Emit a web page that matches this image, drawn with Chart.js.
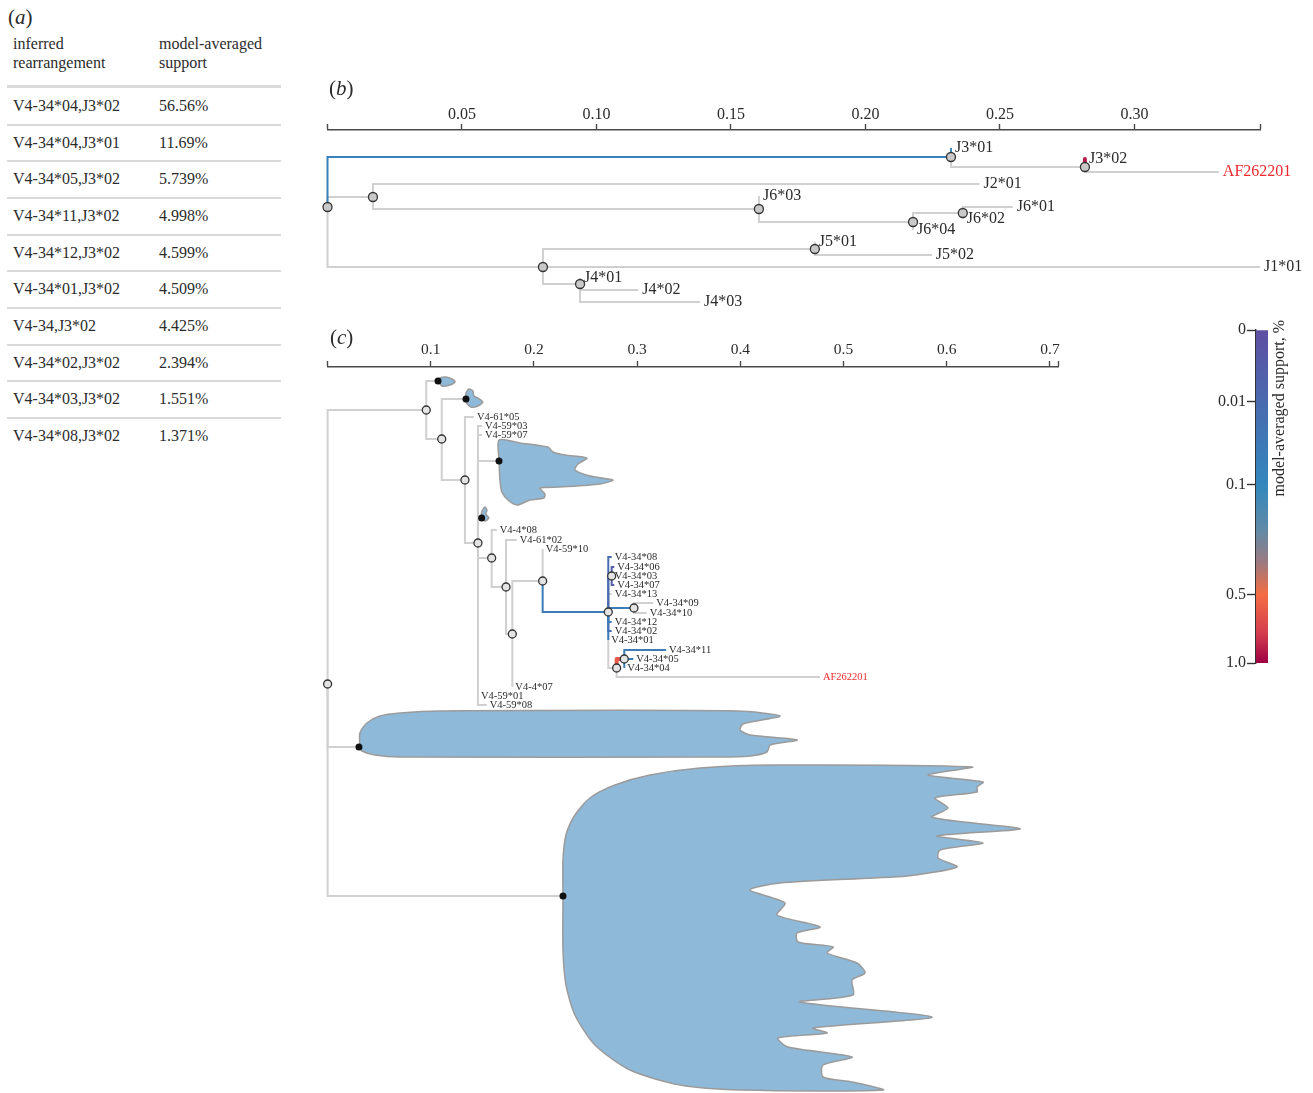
<!DOCTYPE html>
<html>
<head>
<meta charset="utf-8">
<title>Germline rearrangement support</title>
<script src="https://cdn.jsdelivr.net/npm/chart.js@4.4.1/dist/chart.umd.min.js"></script>
<style>
  html, body { margin: 0; padding: 0; background: #fff; }
  body { position: relative; width: 1313px; height: 1093px; overflow: hidden;
         font-family: "Liberation Serif", "Times New Roman", serif; color: #2b2b2b; }
  .box { position: absolute; }
  .panel { position: absolute; font-size: 21px; line-height: 24px; }
  .cell { position: absolute; font-size: 16px; white-space: nowrap; }
  .rule { position: absolute; left: 7px; width: 274px; background: #dadada; }
</style>
</head>
<body>
<div id="table"></div>
<div class="box" style="left:300px;top:60px;width:1013px;height:260px"><canvas id="treeJ"></canvas></div>
<div class="box" style="left:300px;top:320px;width:800px;height:773px"><canvas id="treeV"></canvas></div>
<div class="box" style="left:1190px;top:315px;width:123px;height:365px"><canvas id="supportBar"></canvas></div>
<div class="panel" style="left:8px;top:5px">(<i>a</i>)</div>
<div class="panel" style="left:329px;top:76px">(<i>b</i>)</div>
<div class="panel" style="left:330px;top:325px">(<i>c</i>)</div>
<script>
// ---- (a) top inferred rearrangements ----
const rearrangements = ['V4-34*04,J3*02', 'V4-34*04,J3*01', 'V4-34*05,J3*02', 'V4-34*11,J3*02', 'V4-34*12,J3*02',
                        'V4-34*01,J3*02', 'V4-34,J3*02', 'V4-34*02,J3*02', 'V4-34*03,J3*02', 'V4-34*08,J3*02'];
const rearrangementSupport = [56.56, 11.69, 5.739, 4.998, 4.599, 4.509, 4.425, 2.394, 1.551, 1.371];

// ---- (b) J gene tree ----
const jNodes   = ['j0', 'j1', 'J3*01', 'j2', 'J3*02', 'AF262201', 'j3', 'J2*01', 'j4', 'J6*03', 'j5', 'j6',
                  'J6*01', 'J6*02', 'J6*04', 'j7', 'j8', 'J5*01', 'J5*02', 'J1*01', 'j9', 'J4*01', 'J4*02', 'J4*03'];
const jParents = [null, 'j0', 'j1', 'j1', 'j2', 'j2', 'j0', 'j3', 'j3', 'j4', 'j4', 'j5',
                  'j6', 'j6', 'j5', 'j0', 'j7', 'j8', 'j8', 'j7', 'j7', 'j9', 'j9', 'j9'];
const jDepth   = [0, 0.2318, 0.2318, 0.2816, 0.2816, 0.3314, 0.0169, 0.2424, 0.1604, 0.1604, 0.2177, 0.2362,
                  0.2548, 0.2362, 0.2177, 0.0801, 0.1812, 0.1812, 0.2247, 0.3467, 0.0939, 0.0939, 0.1155, 0.1385];
const jRow     = [77, 27, 18, 37, 29, 42, 67, 54, 79, 66, 92, 83,
                  77, 89, 100, 137, 119, 112, 125, 137, 154, 148, 160, 172];
const jSupport = [null, 0.07, 0.117, null, 0.883, null, null, null, null, null, null, null,
                  null, null, null, null, null, null, null, null, null, null, null, null];
const jTicks = [0.05, 0.10, 0.15, 0.20, 0.25, 0.30];
const J_MAX = 0.3467;

// ---- (c) V gene tree ----
const vNodes = ['v0', 'v1', 'va', 'v2', 'vb', 'v3', 'V4-61*05', 'v4', 'V4-59*03', 'V4-59*07', 'vc', 'vd',
                'v5', 'V4-4*08', 'v6', 'V4-61*02', 'v7', 'v8', 'V4-59*10', 'v9', 'V4-34*08', 'v10',
                'V4-34*06', 'V4-34*03', 'V4-34*07', 'V4-34*13', 'v11', 'V4-34*09', 'V4-34*10', 'V4-34*12',
                'V4-34*02', 'V4-34*01', 'v12', 'v13', 'V4-34*11', 'V4-34*05', 'V4-34*04', 'AF262201',
                'V4-4*07', 'V4-59*01', 'V4-59*08', 've', 'vf'];
const vParents = [null, 'v0', 'v1', 'v1', 'v2', 'v2', 'v3', 'v3', 'v4', 'v4', 'v4', 'v4',
                  'v4', 'v5', 'v5', 'v6', 'v6', 'v7', 'v8', 'v8', 'v9', 'v9',
                  'v10', 'v10', 'v10', 'v9', 'v9', 'v11', 'v11', 'v9',
                  'v9', 'v9', 'v9', 'v12', 'v13', 'v13', 'v13', 'v12',
                  'v7', 'v4', 'v4', 'v0', 'v0'];
const vDepth = [0, 0.0956, 0.1070, 0.1106, 0.1341, 0.1331, 0.1419, 0.1457, 0.1496, 0.1496, 0.1661, 0.1493,
                0.1590, 0.1639, 0.1729, 0.1832, 0.1790, 0.2084, 0.2084, 0.2720, 0.2753, 0.2753,
                0.2778, 0.2753, 0.2778, 0.2753, 0.2969, 0.3156, 0.3092, 0.2753,
                0.2753, 0.2720, 0.2801, 0.2875, 0.3279, 0.2962, 0.2875, 0.4771,
                0.1790, 0.1457, 0.1542, 0.0304, 0.2281];
const vRow = [317, 43, 14, 72, 32, 113, 50, 176, 59, 68, 94, 151,
              191, 163, 220, 173, 267, 214, 182, 245, 190, 209,
              200, 209, 218, 227, 241, 236, 246, 255,
              264, 273, 301, 292, 283, 292, 301, 310,
              320, 329, 338, 380, 529];
const vSupport = [null, null, null, null, null, null, null, null, null, null, null, null,
                  null, null, null, null, null, null, null, 0.046, 0.0137, 0.003,
                  0.002, 0.0155, 0.002, null, 0.05, null, null, 0.046,
                  0.024, 0.045, null, 0.6, 0.05, 0.057, 0.06, null,
                  null, null, null, null, null];
const vTicks = [0.1, 0.2, 0.3, 0.4, 0.5, 0.6, 0.7];
const V_MAX = 0.7081;

// outlines of the collapsed-clade densities, anchored at their nodes
const blobVa = [[0.1069, 14], [0.1089, 11], [0.1147, 10], [0.1205, 12], [0.1234, 15], [0.1185, 18], [0.1108, 19], [0.1069, 14]];
const blobVb = [[0.1341, 32], [0.1341, 26], [0.1370, 22], [0.1408, 24], [0.1418, 29], [0.1457, 31], [0.1505, 35],
                [0.1457, 39], [0.1389, 40], [0.1341, 35], [0.1341, 32]];
const blobVc = [[0.1661, 93], [0.1661, 73], [0.1864, 76], [0.2135, 80], [0.2184, 85], [0.2300, 88], [0.2513, 91],
                [0.2426, 97], [0.2397, 103], [0.2542, 109], [0.2765, 113], [0.2640, 117], [0.2252, 120],
                [0.2058, 121], [0.2106, 127], [0.2097, 131], [0.1961, 133], [0.1835, 138], [0.1748, 133],
                [0.1689, 125], [0.1670, 113], [0.1661, 93]];
const blobVd = [[0.1486, 151], [0.1496, 144], [0.1525, 140], [0.1544, 143], [0.1534, 147], [0.1563, 151],
                [0.1525, 154], [0.1486, 151]];
const blobVe = [[0.0313, 380], [0.0313, 366], [0.0381, 356], [0.0507, 349], [0.0701, 346], [0.1088, 344],
                [0.3967, 344], [0.4384, 349], [0.4026, 357], [0.3997, 363], [0.4094, 368], [0.4550, 373],
                [0.4288, 378], [0.4258, 385], [0.4094, 389], [0.3802, 390], [0.0701, 390], [0.0458, 388],
                [0.0333, 384], [0.0313, 380]];
const blobVf = [[0.2281, 529], [0.2281, 493], [0.2310, 468], [0.2397, 448], [0.2542, 431], [0.2785, 418],
                [0.3124, 408], [0.3609, 401], [0.4317, 398], [0.6246, 400], [0.5819, 408], [0.6352, 415],
                [0.6294, 420], [0.6294, 425], [0.5886, 431], [0.6012, 441], [0.5857, 450], [0.6255, 456],
                [0.6710, 462], [0.5906, 469], [0.6352, 476], [0.5935, 483], [0.5916, 491], [0.6100, 500],
                [0.5615, 509], [0.5285, 511], [0.4384, 516], [0.4093, 523], [0.4433, 536], [0.4355, 548],
                [0.4772, 560], [0.4549, 566], [0.4559, 575], [0.4898, 580], [0.4840, 586], [0.5130, 596],
                [0.5208, 606], [0.5082, 613], [0.5092, 628], [0.4578, 635], [0.5857, 650], [0.4704, 661],
                [0.4840, 666], [0.4365, 671], [0.4462, 680], [0.5082, 690], [0.4801, 698], [0.4801, 710],
                [0.5082, 715], [0.5382, 723], [0.3996, 723], [0.3415, 718], [0.2930, 703], [0.2591, 678],
                [0.2397, 648], [0.2310, 618], [0.2281, 583], [0.2281, 529]];
const vBlobNodes = ['va', 'vb', 'vc', 'vd', 've', 'vf'];
const vBlobs = [blobVa, blobVb, blobVc, blobVd, blobVe, blobVf];

// ---- colour bar ----
const barTicks = [0, 0.01, 0.1, 0.5, 1.0];
const barTickLabels = ['0', '0.01', '0.1', '0.5', '1.0'];
const cmapStops  = [0, 0.1, 0.22, 0.34, 0.5, 0.75, 1.0];
const cmapColors = ['#5e4fa2', '#3288bd', '#628aa6', '#9c7a80', '#f46d43', '#d53e4f', '#9e0142'];

const SERIF = '"Liberation Serif", "Times New Roman", serif';
const INK = '#2b2b2b';
const GRAY = '#d0d0d0';
const RED_LABEL = '#ee2a2f';
Chart.defaults.font.family = SERIF;
Chart.defaults.color = INK;

// table (a)
const table = document.getElementById('table');
function addCell(html, left, top, lh) {
  const d = document.createElement('div');
  d.className = 'cell';
  d.style.left = left + 'px';
  d.style.top = top + 'px';
  d.style.lineHeight = lh + 'px';
  d.innerHTML = html;
  table.appendChild(d);
}
function addRule(top, h) {
  const d = document.createElement('div');
  d.className = 'rule';
  d.style.top = top + 'px';
  d.style.height = h + 'px';
  table.appendChild(d);
}
addCell('inferred<br>rearrangement', 13, 34, 19);
addCell('model-averaged<br>support', 159, 34, 19);
addRule(85, 3);
rearrangements.forEach((r, i) => {
  const mid = 106 + i * 36.67;
  addCell(r, 13, mid - 10, 20);
  addCell(rearrangementSupport[i].toPrecision(4) + '%', 159, mid - 10, 20);
  if (i < rearrangements.length - 1) addRule(Math.round(mid + 17.5), 2);
});

function hexToRgb(h) {
  const n = parseInt(h.slice(1), 16);
  return [(n >> 16) & 255, (n >> 8) & 255, n & 255];
}

// colour scale is cube-root spaced, same as the bar
function supportColor(s) {
  const t = Math.cbrt(s);
  for (let k = 1; k < cmapStops.length; k++) {
    const t0 = Math.cbrt(cmapStops[k - 1]);
    const t1 = Math.cbrt(cmapStops[k]);
    if (t <= t1 || k === cmapStops.length - 1) {
      const f = Math.max(0, Math.min(1, (t - t0) / (t1 - t0)));
      const a = hexToRgb(cmapColors[k - 1]);
      const b = hexToRgb(cmapColors[k]);
      return 'rgb(' + a.map((v, i) => Math.round(v + (b[i] - v) * f)).join(',') + ')';
    }
  }
}

// elbow edges, node circles and tip list for one tree
function buildTree(names, parents, depth, rows, support, nodeRadius, nodeFill, blobNodes) {
  const at = {};
  names.forEach((n, i) => { at[n] = i; });
  const inner = new Set(parents.filter(p => p !== null));
  const datasets = [];
  names.forEach((n, i) => {
    const p = parents[i];
    if (p === null) return;
    const j = at[p];
    const s = support[i];
    const strong = s !== null && s >= 0.5;
    datasets.push({
      data: [{x: depth[j], y: rows[j]}, {x: depth[j], y: rows[i]}, {x: depth[i], y: rows[i]}],
      showLine: true,
      pointRadius: 0,
      clip: false,
      borderColor: s === null ? GRAY : supportColor(s),
      borderWidth: strong ? 4 : 2,
      borderCapStyle: strong ? 'round' : 'butt',
      borderJoinStyle: strong ? 'round' : 'miter',
      order: s === null ? 4 : 3
    });
  });
  datasets.push({
    data: names.filter(n => inner.has(n)).map(n => ({x: depth[at[n]], y: rows[at[n]]})),
    pointRadius: nodeRadius,
    pointBackgroundColor: nodeFill,
    pointBorderColor: '#333',
    pointBorderWidth: 1.3,
    clip: false,
    order: 0
  });
  const tips = names
    .filter(n => !inner.has(n) && !blobNodes.includes(n))
    .map(n => ({name: n, x: depth[at[n]], y: rows[at[n]]}));
  return {datasets, tips, at};
}

function tipLabels(tips, font, gap) {
  return {
    id: 'tipLabels',
    afterDatasetsDraw(chart) {
      const {ctx, scales: {x, y}} = chart;
      ctx.save();
      ctx.font = font;
      ctx.textAlign = 'left';
      ctx.textBaseline = 'middle';
      tips.forEach(t => {
        ctx.fillStyle = t.name === 'AF262201' ? RED_LABEL : INK;
        ctx.fillText(t.name, x.getPixelForValue(t.x) + gap, y.getPixelForValue(t.y));
      });
      ctx.restore();
    }
  };
}

function topAxis(max, ticks, digits, height, fontSize, padding) {
  return {
    type: 'linear',
    position: 'top',
    min: 0,
    max: max,
    afterBuildTicks: s => { s.ticks = [0, ...ticks, max].map(v => ({value: v})); },
    afterFit: s => { s.height = height; },
    grid: { drawOnChartArea: false, drawTicks: true, tickLength: 6, tickColor: '#4a4a4a', tickWidth: 1.4 },
    border: { display: true, color: '#4a4a4a', width: 1.4 },
    ticks: {
      autoSkip: false, maxRotation: 0, padding: padding, color: INK,
      font: { family: SERIF, size: fontSize, lineHeight: 1 },
      callback: v => (v === 0 || v === max) ? '' : v.toFixed(digits)
    }
  };
}

function baseOptions(padding, xAxis, yMax) {
  return {
    animation: false,
    responsive: true,
    maintainAspectRatio: false,
    events: [],
    layout: { padding: padding, autoPadding: false },
    plugins: { legend: { display: false }, tooltip: { enabled: false } },
    scales: {
      x: xAxis,
      y: { display: false, min: 0, max: yMax, reverse: true }
    }
  };
}

// (b)
const jTree = buildTree(jNodes, jParents, jDepth, jRow, jSupport, 4.5, '#c9c9c9', []);
new Chart(document.getElementById('treeJ'), {
  type: 'scatter',
  data: { datasets: jTree.datasets },
  options: baseOptions({left: 27.5, right: 53, top: 0, bottom: 0},
                       topAxis(J_MAX, jTicks, 2, 70, 16, 1), 190),
  plugins: [tipLabels(jTree.tips, '16px ' + SERIF, 4)]
});

// (c)
const vTree = buildTree(vNodes, vParents, vDepth, vRow, vSupport, 4, '#e4e4e4', vBlobNodes);
vBlobs.forEach(outline => {
  vTree.datasets.push({
    data: outline.map(p => ({x: p[0], y: p[1]})),
    showLine: true,
    fill: 'shape',
    tension: 0.25,
    pointRadius: 0,
    clip: false,
    backgroundColor: '#8fb9d9',
    borderColor: '#9b9b9b',
    borderWidth: 1.5,
    order: 1
  });
});
vTree.datasets.push({
  data: vBlobNodes.map(n => ({x: vDepth[vTree.at[n]], y: vRow[vTree.at[n]]})),
  pointRadius: 3.5,
  pointBackgroundColor: '#111',
  pointBorderColor: '#111',
  pointBorderWidth: 0,
  clip: false,
  order: 0
});
new Chart(document.getElementById('treeV'), {
  type: 'scatter',
  data: { datasets: vTree.datasets },
  options: baseOptions({left: 27.6, right: 41.7, top: 0, bottom: 0},
                       topAxis(V_MAX, vTicks, 1, 47, 15.5, 3), 726),
  plugins: [tipLabels(vTree.tips, '10.5px ' + SERIF, 3)]
});

// colour bar
const barTitle = {
  id: 'barTitle',
  afterDraw(chart) {
    const {ctx, chartArea} = chart;
    ctx.save();
    ctx.translate(chartArea.right + 12, chartArea.top - 10);
    ctx.rotate(-Math.PI / 2);
    ctx.font = '16px ' + SERIF;
    ctx.fillStyle = INK;
    ctx.textAlign = 'right';
    ctx.textBaseline = 'middle';
    ctx.fillText('model-averaged support, %', 0, 0);
    ctx.restore();
  }
};
new Chart(document.getElementById('supportBar'), {
  type: 'bar',
  data: {
    labels: [''],
    datasets: [{
      data: [1],
      borderWidth: 0,
      barPercentage: 1,
      categoryPercentage: 1,
      backgroundColor: c => {
        const area = c.chart.chartArea;
        if (!area) return cmapColors[0];
        const g = c.chart.ctx.createLinearGradient(0, area.top, 0, area.bottom);
        cmapStops.forEach((s, k) => g.addColorStop(Math.cbrt(s), cmapColors[k]));
        return g;
      }
    }]
  },
  options: {
    animation: false,
    responsive: true,
    maintainAspectRatio: false,
    events: [],
    layout: { padding: { left: 0, right: 45, top: 15, bottom: 17 }, autoPadding: false },
    plugins: { legend: { display: false }, tooltip: { enabled: false } },
    scales: {
      x: { display: false },
      y: {
        min: 0, max: 1, reverse: true,
        afterBuildTicks: s => { s.ticks = barTicks.map(v => ({value: Math.cbrt(v)})); },
        afterFit: s => { s.width = 66; },
        grid: { drawOnChartArea: false, tickLength: 9, tickColor: '#333', tickWidth: 1.4 },
        border: { display: true, color: '#333', width: 1.4 },
        ticks: { padding: 1, color: INK, font: { family: SERIF, size: 16 }, callback: (v, i) => barTickLabels[i] }
      }
    }
  },
  plugins: [barTitle]
});
</script>
</body>
</html>
